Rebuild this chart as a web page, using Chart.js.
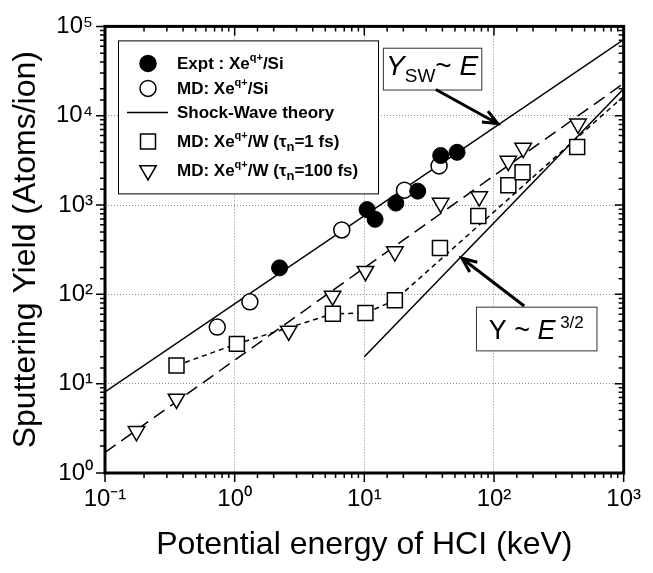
<!DOCTYPE html>
<html>
<head>
<meta charset="utf-8">
<script src="https://cdn.jsdelivr.net/npm/chart.js@4.4.0/dist/chart.umd.min.js"></script>
<style>body{margin:0;background:#fff}</style>
</head>
<body>
<canvas id="chart" width="653" height="573"></canvas>
<script>
// valores (E em keV, Y em átomos/íon)
const exptE = [2.22, 10.5, 12.1, 17.5, 25.8, 38.8, 51.9]
const exptY = [198, 889, 692, 1051, 1431, 3584, 3894]
const mdSiE = [0.734, 1.31, 6.7, 20.4, 37.7]
const mdSiY = [43, 82.5, 526, 1467, 2742]
const mdW1E = [0.356, 1.04, 5.72, 10.2, 17.2, 38.3, 75.7, 129, 166, 438]
const mdW1Y = [16, 27.9, 60.6, 61.7, 86, 330, 754, 1663, 2323, 4455]
const mdW100E = [0.175, 0.356, 2.61, 5.69, 10.2, 17.2, 38.8, 76.9, 129, 168, 445]
const mdW100Y = [2.93, 6.75, 38.9, 95.9, 182, 301, 1052, 1244, 3110, 4345, 8127]

// curvas
const swE = [0.1, 1000]
const swY = [8.1, 71000]
const w100FitE = [0.1, 1000]
const w100FitY = [1.7, 23000]
const w1FitE = [0.356, 1.04, 5.72, 10.2, 17.2, 1000]
const w1FitY = [16, 27.9, 60.6, 61.7, 86, 16500]
const e15E = [10, 1000]
const e15Y = [20, 20000]

const xTicks = [0.1, 1, 10, 100, 1000]
const yTicks = [1, 10, 100, 1000, 10000, 100000]

const FONT = "'Liberation Sans', Arial, sans-serif"
const sup = {'-': '⁻', '0': '⁰', '1': '¹', '2': '²', '3': '³', '4': '⁴', '5': '⁵'}
const isDecade = v => Math.abs(Math.log10(v) - Math.round(Math.log10(v))) < 1e-9
const decadeLabel = v => isDecade(v)
  ? '10' + String(Math.round(Math.log10(v))).split('').map(c => sup[c]).join('')
  : ''
const pts = (xs, ys) => xs.map((x, i) => ({x: x, y: ys[i]}))

function richText(ctx, parts, x, y, draw) {
  let cx = x
  parts.forEach(p => {
    ctx.font = (p.style || '') + ' ' + p.size + 'px ' + FONT
    if (draw) ctx.fillText(p.t, cx, y + (p.dy || 0))
    cx += ctx.measureText(p.t).width + (p.gap || 0)
  })
  return cx - x
}

function marker(ctx, kind, x, y) {
  ctx.save()
  ctx.lineWidth = 1.5
  ctx.strokeStyle = '#000'
  ctx.fillStyle = kind === 'filled' ? '#000' : '#fff'
  ctx.beginPath()
  if (kind === 'filled' || kind === 'open') {
    ctx.arc(x, y, 8, 0, Math.PI * 2)
  } else if (kind === 'square') {
    ctx.rect(x - 7.5, y - 7.5, 15, 15)
  } else if (kind === 'tri') {
    const r = 9.5
    ctx.moveTo(x, y + r)
    ctx.lineTo(x - r * 0.866, y - r / 2)
    ctx.lineTo(x + r * 0.866, y - r / 2)
    ctx.closePath()
  }
  ctx.fill()
  ctx.stroke()
  ctx.restore()
}

function arrow(ctx, x0, y0, x1, y1) {
  const a = Math.atan2(y1 - y0, x1 - x0)
  ctx.save()
  ctx.strokeStyle = '#000'
  ctx.lineWidth = 3
  ctx.beginPath()
  ctx.moveTo(x0, y0)
  ctx.lineTo(x1, y1)
  ctx.moveTo(x1 - 16 * Math.cos(a - 0.4), y1 - 16 * Math.sin(a - 0.4))
  ctx.lineTo(x1, y1)
  ctx.lineTo(x1 - 16 * Math.cos(a + 0.4), y1 - 16 * Math.sin(a + 0.4))
  ctx.stroke()
  ctx.restore()
}

function textBox(ctx, xs, ys, e0, e1, y0, y1, parts, baseOff) {
  const l = xs.getPixelForValue(e0), r = xs.getPixelForValue(e1)
  const t = ys.getPixelForValue(y1), b = ys.getPixelForValue(y0)
  ctx.save()
  ctx.fillStyle = '#fff'
  ctx.fillRect(l, t, r - l, b - t)
  ctx.strokeStyle = '#333'
  ctx.lineWidth = 1
  ctx.strokeRect(l + 0.5, t + 0.5, r - l, b - t)
  ctx.fillStyle = '#000'
  ctx.textBaseline = 'alphabetic'
  const w = richText(ctx, parts, 0, 0, false)
  richText(ctx, parts, (l + r) / 2 - w / 2, (t + b) / 2 + baseOff, true)
  ctx.restore()
}

const extras = {
  id: 'extras',
  afterDraw(chart) {
    const ctx = chart.ctx
    const xs = chart.scales.x, ys = chart.scales.y
    const {left, right, top, bottom} = chart.chartArea

    // ticks: fora em baixo/esquerda, dentro em cima/direita
    ctx.save()
    ctx.strokeStyle = '#000'
    ctx.lineWidth = 1.5
    ctx.beginPath()
    xs.ticks.forEach(tk => {
      const px = xs.getPixelForValue(tk.value)
      const len = isDecade(tk.value) ? 9 : 5
      ctx.moveTo(px, bottom); ctx.lineTo(px, bottom + len)
      ctx.moveTo(px, top); ctx.lineTo(px, top + len)
    })
    ys.ticks.forEach(tk => {
      const py = ys.getPixelForValue(tk.value)
      const len = isDecade(tk.value) ? 9 : 5
      ctx.moveTo(left, py); ctx.lineTo(left - len, py)
      ctx.moveTo(right, py); ctx.lineTo(right - len, py)
    })
    ctx.stroke()
    ctx.lineWidth = 3
    ctx.strokeRect(left, top, right - left, bottom - top)
    ctx.restore()

    // legenda
    const lx = left + 13, ly = top + 14, lw = 260, lh = 153
    ctx.save()
    ctx.fillStyle = '#fff'
    ctx.fillRect(lx, ly, lw, lh)
    ctx.strokeStyle = '#000'
    ctx.lineWidth = 1
    ctx.strokeRect(lx + 0.5, ly + 0.5, lw, lh)
    ctx.restore()
    const mx = lx + 30, tx = lx + 59
    const rows = [
      {k: 'filled', dy: 23, parts: [{t: 'Expt : Xe', size: 17, style: 'bold'}, {t: 'q+', size: 11, style: 'bold', dy: -8}, {t: '/Si', size: 17, style: 'bold'}]},
      {k: 'open', dy: 48, parts: [{t: 'MD: Xe', size: 17, style: 'bold'}, {t: 'q+', size: 11, style: 'bold', dy: -8}, {t: '/Si', size: 17, style: 'bold'}]},
      {k: 'line', dy: 72, parts: [{t: 'Shock-Wave theory', size: 17, style: 'bold'}]},
      {k: 'square', dy: 101, parts: [{t: 'MD: Xe', size: 17, style: 'bold'}, {t: 'q+', size: 11, style: 'bold', dy: -8}, {t: '/W (', size: 17, style: 'bold'}, {t: 'τ', size: 17, style: 'bold'}, {t: 'n', size: 13, style: 'bold', dy: 4}, {t: '=1 fs)', size: 17, style: 'bold'}]},
      {k: 'tri', dy: 130, parts: [{t: 'MD: Xe', size: 17, style: 'bold'}, {t: 'q+', size: 11, style: 'bold', dy: -8}, {t: '/W (', size: 17, style: 'bold'}, {t: 'τ', size: 17, style: 'bold'}, {t: 'n', size: 13, style: 'bold', dy: 4}, {t: '=100 fs)', size: 17, style: 'bold'}]}
    ]
    rows.forEach(r => {
      const y = ly + r.dy
      if (r.k === 'line') {
        ctx.save()
        ctx.strokeStyle = '#000'
        ctx.lineWidth = 1.5
        ctx.beginPath()
        ctx.moveTo(lx + 9, y); ctx.lineTo(lx + 50, y)
        ctx.stroke()
        ctx.restore()
      } else {
        marker(ctx, r.k, mx, y)
      }
      ctx.save()
      ctx.fillStyle = '#000'
      ctx.textBaseline = 'alphabetic'
      richText(ctx, r.parts, tx, y + 6, true)
      ctx.restore()
    })

    // caixas de anotação e setas
    textBox(ctx, xs, ys, 13.9, 79.8, 19650, 57700, [
      {t: 'Y', size: 28, style: 'italic'},
      {t: 'SW', size: 19, dy: 7},
      {t: '~ ', size: 28},
      {t: 'E', size: 28, style: 'italic'}
    ], 6)
    arrow(ctx, xs.getPixelForValue(35.6), ys.getPixelForValue(19650), xs.getPixelForValue(107), ys.getPixelForValue(8130))

    textBox(ctx, xs, ys, 72.6, 617, 23.6, 72.8, [
      {t: 'Y ~ ', size: 27},
      {t: 'E', size: 27, style: 'italic'},
      {t: ' 3/2', size: 17, dy: -11}
    ], 10)
    arrow(ctx, xs.getPixelForValue(171), ys.getPixelForValue(74), xs.getPixelForValue(56.5), ys.getPixelForValue(254))
  }
}

const ctx = document.getElementById('chart')

new Chart(ctx, {
  type: 'scatter',
  data: {
    datasets: [
      {data: pts(exptE, exptY), pointStyle: 'circle', pointRadius: 8, backgroundColor: '#000', borderColor: '#000', borderWidth: 1},
      {data: pts(mdSiE, mdSiY), pointStyle: 'circle', pointRadius: 8, backgroundColor: '#fff', borderColor: '#000', borderWidth: 1.5},
      {data: pts(mdW100E, mdW100Y), pointStyle: 'triangle', rotation: 180, pointRadius: 9.5, backgroundColor: '#fff', borderColor: '#000', borderWidth: 1.5},
      {data: pts(mdW1E, mdW1Y), pointStyle: 'rect', pointRadius: 10.6, backgroundColor: '#fff', borderColor: '#000', borderWidth: 1.5},
      {data: pts(swE, swY), showLine: true, pointRadius: 0, borderColor: '#000', borderWidth: 1.5},
      {data: pts(w100FitE, w100FitY), showLine: true, pointRadius: 0, borderColor: '#000', borderWidth: 1.5, borderDash: [13, 7]},
      {data: pts(w1FitE, w1FitY), showLine: true, pointRadius: 0, borderColor: '#000', borderWidth: 1.5, borderDash: [5, 4]},
      {data: pts(e15E, e15Y), showLine: true, pointRadius: 0, borderColor: '#000', borderWidth: 1.5}
    ]
  },
  options: {
    responsive: false,
    animation: false,
    layout: {padding: {top: 13, right: 20, left: 0, bottom: 0}},
    plugins: {legend: {display: false}, tooltip: {enabled: false}},
    scales: {
      x: {
        type: 'logarithmic',
        min: xTicks[0],
        max: xTicks[xTicks.length - 1],
        afterFit: s => { s.height = 100 },
        grid: {drawTicks: false, lineWidth: 1, color: c => (c.tick && isDecade(c.tick.value)) ? '#8a8a8a' : 'rgba(0,0,0,0)'},
        border: {display: false, dash: [1, 2]},
        ticks: {autoSkip: false, maxRotation: 0, padding: 12, color: '#000', font: {family: FONT, size: 24}, callback: v => decadeLabel(v)},
        title: {display: true, text: 'Potential energy of HCI (keV)', color: '#000', font: {family: FONT, size: 32}, padding: {top: 0, bottom: 9}}
      },
      y: {
        type: 'logarithmic',
        min: yTicks[0],
        max: yTicks[yTicks.length - 1],
        afterFit: s => { s.width = 105 },
        grid: {drawTicks: false, lineWidth: 1, color: c => (c.tick && isDecade(c.tick.value)) ? '#8a8a8a' : 'rgba(0,0,0,0)'},
        border: {display: false, dash: [1, 2]},
        ticks: {autoSkip: false, padding: 12, color: '#000', font: {family: FONT, size: 24}, callback: v => decadeLabel(v)},
        title: {display: true, text: 'Sputtering Yield (Atoms/ion)', color: '#000', font: {family: FONT, size: 32}, padding: {top: 7, bottom: 0}}
      }
    }
  },
  plugins: [extras]
})
</script>
</body>
</html>
